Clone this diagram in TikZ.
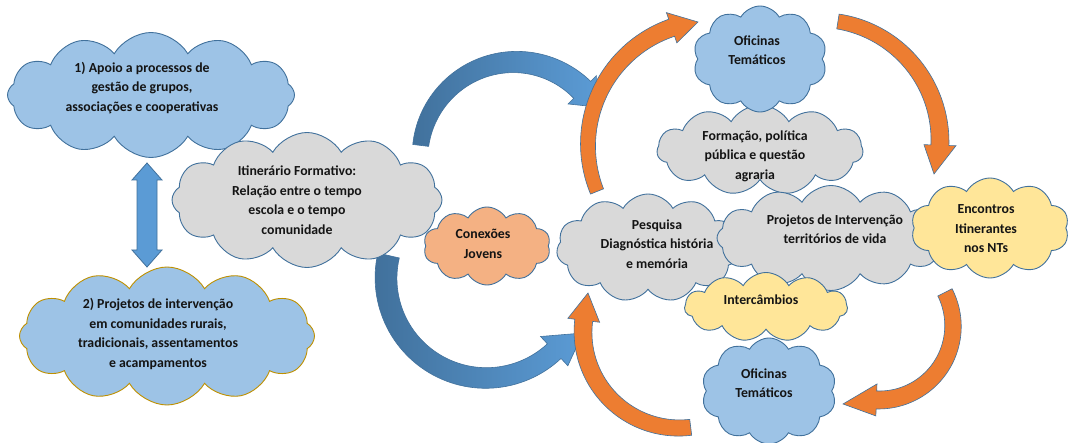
\documentclass[tikz,border=0pt]{standalone}
\usepackage{fontspec}
\setmainfont{Carlito}
\usetikzlibrary{shapes.symbols}

\definecolor{cloudblue}{HTML}{9DC3E6}
\definecolor{cloudgray}{HTML}{D9D9D9}
\definecolor{cloudyellow}{HTML}{FFE699}
\definecolor{cloudorange}{HTML}{F4B183}
\definecolor{edgeblue}{HTML}{41719C}
\definecolor{edgegold}{HTML}{BF9000}
\definecolor{arrowblue}{HTML}{5B9BD5}
\definecolor{arrowdark}{HTML}{41719C}
\definecolor{arroworange}{HTML}{ED7D31}

% Fat curved arrow along a circle:
% #1 centre, #2 radius, #3 tail angle, #4 angle of the head base,
% #5 tip, #6 width at tail, #7 width at head, #8 half width of head, #9 style
\newcommand\bentarrow[9]{%
  \path[#9, shift={(#1)}]
    plot[domain=#3:#4, samples=60, variable=\t]
      (\t:{#2+(#6+(#7-#6)*(\t-(#3))/((#4)-(#3)))/2})
    -- (#4:{#2+#8}) -- (#5) -- (#4:{#2-#8})
    -- plot[domain=#4:#3, samples=60, variable=\t]
      (\t:{#2-(#6+(#7-#6)*(\t-(#3))/((#4)-(#3)))/2})
    -- cycle;
}

\tikzset{
  puff/.style={cloud, cloud puffs=#1, cloud puff arc=120, cloud ignores aspect,
    draw=edgeblue, line width=0.9pt, inner sep=0pt},
  puff/.default=11,
  txt/.style={align=center, inner sep=0pt, text=black!92,
    font=\fontsize{13.8}{19.5}\selectfont\bfseries},
  bluebent/.style={left color=arrowdark, middle color=arrowdark!70!arrowblue,
    right color=arrowblue, draw=edgeblue, line width=0.6pt},
  orangebent/.style={fill=arroworange, draw=edgeblue, line width=0.6pt},
  twoway/.style={fill=arrowblue, draw=edgeblue, line width=0.8pt, line join=miter},
}

\begin{document}
\begin{tikzpicture}[x=1pt,y=-1pt]
\fill[white] (0,0) rectangle (1068,443);
\useasboundingbox (0,0) rectangle (1068,443);

% centres and tips of the curved arrows
\coordinate (b1c) at (515,157);  \coordinate (b1tip) at (597,107);
\coordinate (b2c) at (486,278);  \coordinate (b2tip) at (583,333);
\coordinate (o1c) at (712,145);  \coordinate (o1tip) at (698,22);
\coordinate (o2c) at (819,141);  \coordinate (o2tip) at (934,174);
\coordinate (o3c) at (879,326);  \coordinate (o3tip) at (843,404);
\coordinate (o4c) at (679,332);  \coordinate (o4tip) at (588,293);

% blue arrows leaving the itinerary cloud
\bentarrow{b1c}{95}{187}{315}{b1tip}{16}{24}{20}{bluebent}
\bentarrow{b2c}{100}{193}{47}{b2tip}{22}{20}{20}{bluebent}

% left side
\node[puff=12, fill=cloudblue, minimum width=287pt, minimum height=125pt] (apoio) at (151,95) {};
\node[txt] (apoio-t) at (142,88) {1) Apoio a processos de\\gestão de grupos,\\associações e cooperativas};

\node[puff=12, fill=cloudgray, minimum width=270pt, minimum height=135pt] (itin) at (307,200) {};
\node[txt] (itin-t) at (297,200) {Itinerário Formativo:\\Relação entre o tempo\\escola e o tempo\\comunidade};

\node[puff=12, fill=cloudblue, draw=edgegold, minimum width=295pt, minimum height=138pt] (proj2) at (167,336) {};
\node[txt] (proj2-t) at (158,334) {2) Projetos de intervenção\\em comunidades rurais,\\tradicionais, assentamentos\\e acampamentos};

% two-headed arrow between the two lines of action
\coordinate (linktop) at (147,163);
\coordinate (linkbot) at (147,267);
\draw[twoway] (linktop) -- ++(15,17) -- ++(-5,0) -- ++(0,70) -- ++(5,0)
  -- (linkbot) -- ++(-15,-17) -- ++(5,0) -- ++(0,-70) -- ++(-5,0) -- cycle;

\node[puff=10, fill=cloudorange, minimum width=127pt, minimum height=78pt] (conex) at (487,246) {};
\node[txt] (conex-t) at (483,244) {Conexões\\Jovens};

% right side
\node[puff=11, fill=cloudgray, minimum width=206pt, minimum height=90pt] (form) at (760,150) {};
\node[txt] (form-t) at (755,156) {Formação, política\\pública e questão\\agraria};

\node[puff=10, fill=cloudblue, minimum width=134pt, minimum height=106pt] (of1) at (760,59) {};
\node[txt] (of1-t) at (757,50) {Oficinas\\Temáticos};

\node[puff=11, fill=cloudgray, minimum width=183pt, minimum height=108pt] (pesq) at (648,248) {};
\node[txt] (pesq-t) at (657,244) {Pesquisa\\Diagnóstica história\\e memória};

\node[puff=12, fill=cloudgray, minimum width=228pt, minimum height=105pt] (projint) at (831,238) {};
\node[txt] (projint-t) at (835,229) {Projetos de Intervenção\\territórios de vida};

\node[puff=10, fill=cloudyellow, minimum width=158pt, minimum height=100pt] (encon) at (990,228) {};
\node[txt] (encon-t) at (986,229) {Encontros\\Itinerantes\\nos NTs};

\node[puff=11, fill=cloudyellow, minimum width=163pt, minimum height=69pt] (inter) at (766,307) {};
\node[txt] (inter-t) at (761,300) {Intercâmbios};

\node[puff=10, fill=cloudblue, minimum width=135pt, minimum height=106pt] (of2) at (769,391) {};
\node[txt] (of2-t) at (764,383) {Oficinas\\Temáticos};

% orange cycle around the central clouds
\bentarrow{o1c}{124}{158}{251}{o1tip}{14}{18}{16}{orangebent}
\bentarrow{o2c}{121}{-81}{2}{o2tip}{15}{18}{16}{orangebent}
\bentarrow{o3c}{74}{-27}{92}{o3tip}{16}{18}{16}{orangebent}
\bentarrow{o4c}{96}{83}{187}{o4tip}{16}{18}{16}{orangebent}
\end{tikzpicture}
\end{document}
